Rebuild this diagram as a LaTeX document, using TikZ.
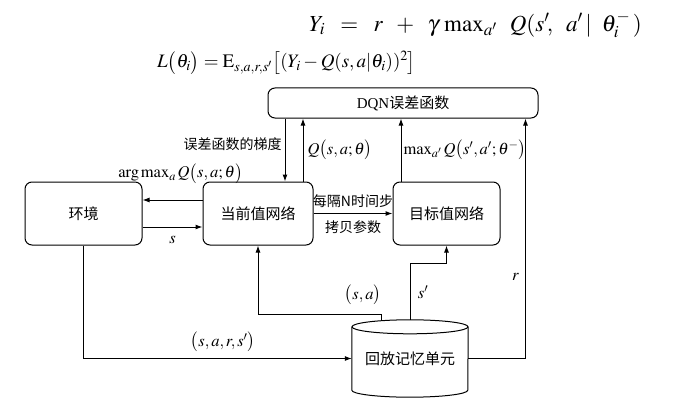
\documentclass[tikz,border=0pt]{standalone}
\usepackage{mathptmx}
\usepackage{fontspec}
\setmainfont{Liberation Serif}
\newfontfamily\cjk{Noto Sans CJK SC}
\usetikzlibrary{arrows.meta,positioning,calc}
\def\wLine{1.0pt}
\tikzset{
  box/.style={draw, line width=\wLine, rounded corners=7pt, font=\cjk\fontsize{15}{18}\selectfont},
  flow/.style={draw, line width=\wLine, -{Latex[length=7pt,width=5pt]}},
  lbl/.style={font=\cjk\fontsize{14}{16}\selectfont, inner sep=1pt},
  mlbl/.style={font=\fontsize{16.5}{19}\selectfont, inner sep=1pt},
  eqn/.style={font=\fontsize{19}{22}\selectfont, inner sep=0pt},
}

\begin{document}
\begin{tikzpicture}[x=1pt, y=1pt]
\useasboundingbox (0,0) rectangle (673,400);
% target value and loss
\node[eqn, font=\fontsize{23}{26}\selectfont, anchor=east] (ytgt) at (642,375)
  {$Y_i\;\;=\;\;r\;\;+\;\;\gamma\,\max_{a'}\;\;Q(s'\!,\;\;a'\,|\;\;\theta_i^-\,)$};
\node[eqn, anchor=west] (loss) at (157,337) {$L\bigl(\theta_i\bigr)=\mathrm{E}_{s,a,r,s'}\bigl[(Y_i-Q(s,a|\theta_i))^2\bigr]$};
% blocks
\node[box, minimum width=270pt, minimum height=30pt] (dqn) at (403,297) {{\rmfamily DQN}误差函数};
\node[box, minimum width=117pt, minimum height=63pt] (env) at (83.5,186.5) {环境};
\node[box, minimum width=110pt, minimum height=63pt] (cur) at (258,186.5) {当前值网络};
\node[box, minimum width=107pt, minimum height=63pt] (tgt) at (446.5,186.5) {目标值网络};
\node[font=\cjk\fontsize{15}{18}\selectfont, minimum width=116pt, minimum height=63pt] (mem) at (410,41.5) {回放记忆单元};
\draw[line width=\wLine] (mem.north west) -- (mem.south west)
  arc[start angle=180, end angle=360, x radius=58pt, y radius=7pt] -- (mem.north east);
\draw[line width=\wLine] (mem.north) ellipse[x radius=58pt, y radius=7pt];
% x positions of the vertical links
\coordinate (gradx) at ([xshift=27pt]cur.north);
\coordinate (qx) at ([xshift=45pt]cur.north);
\coordinate (tx) at ([xshift=-45.5pt]tgt.north);
\coordinate (rx) at ([xshift=-13pt]dqn.south east);
\coordinate (sax) at ([xshift=-29pt,yshift=6pt]mem.north);
\coordinate (spx) at ([yshift=7pt]mem.north);
% links to the error function
\draw[flow] (gradx |- dqn.south) -- (gradx) node[lbl, pos=0.4, left=2pt] {误差函数的梯度};
\draw[flow] (qx) -- (qx |- dqn.south) node[mlbl, midway, right=3pt] {$Q\bigl(s,a;\theta\bigr)$};
\draw[flow] (tx) -- (tx |- dqn.south) node[mlbl, midway, right=1pt] {$\max_{a'}Q\bigl(s',a';\theta^-\bigr)$};
\draw[flow] (mem.east) -| (rx) node[mlbl, pos=0.67, left=5pt] {$r$};
% agent and environment
\draw[flow] ([yshift=13.5pt]cur.west) -- ([yshift=13.5pt]env.east)
  node[mlbl, midway, above=15pt, xshift=8pt] {$\arg\max_a Q\bigl(s,a;\theta\bigr)$};
\draw[flow] ([yshift=-13.5pt]env.east) -- ([yshift=-13.5pt]cur.west) node[mlbl, midway, below=8pt] {$s$};
\draw[flow] (cur.east) -- (tgt.west)
  node[lbl, midway, above=4pt] {每隔N时间步}
  node[lbl, midway, below=6pt] {拷贝参数};
% replay memory
\draw[flow] (sax) |- ([yshift=-69pt]cur.south) -- (cur.south);
\node[mlbl] (salbl) at (363,105) {$\bigl(s,a\bigr)$};
\draw[flow] (spx) |- ([yshift=-18pt]tgt.south) -- (tgt.south);
\node[mlbl] (splbl) at (423,108) {$s'$};
\draw[flow] (env.south) |- (mem.west) node[mlbl, pos=0.76, above=5pt] {$\bigl(s,a,r,s'\bigr)$};
\end{tikzpicture}
\end{document}
